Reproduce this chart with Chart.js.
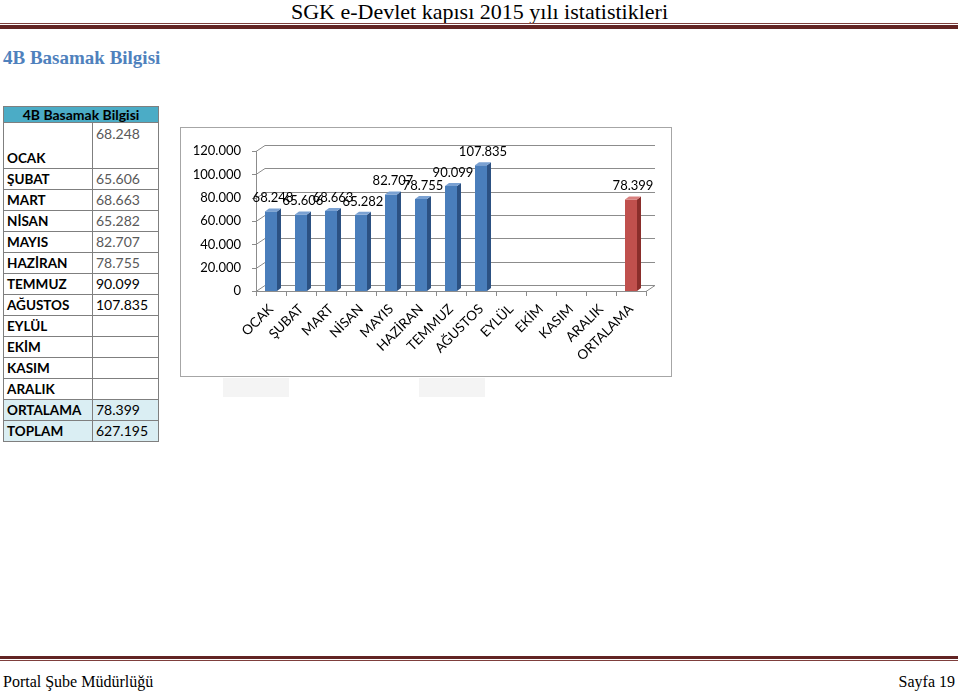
<!DOCTYPE html>
<html>
<head>
<meta charset="utf-8">
<script src="https://cdn.jsdelivr.net/npm/chart.js@4.4.1/dist/chart.umd.min.js"></script>
<style>
  body { margin: 0; width: 960px; height: 691px; background: #fff; position: relative; overflow: hidden; font-family: 'Liberation Serif', serif; }
  #head { position: absolute; right: 292px; top: 1px; font-size: 22px; line-height: 22px; color: #000; white-space: nowrap; }
  .thin { position: absolute; left: 0; width: 958px; height: 1px; background: #7f3f3d; }
  .thick { position: absolute; left: 0; width: 958px; height: 4px; background: #622423; }
  #title { position: absolute; left: 3px; top: 47px; font-size: 19px; font-weight: bold; color: #4f81bd; }
  #tbl { position: absolute; left: 3px; top: 106px; width: 155px; border-collapse: collapse; font-family: Lato, sans-serif; font-size: 14px; table-layout: fixed; }
  #tbl td { border: 1px solid #7f7f7f; padding: 0 0 0 3px; height: 20px; line-height: 16px; vertical-align: middle; white-space: nowrap; overflow: hidden; }
  #tbl td.lab { font-weight: bold; font-size: 13.5px; color: #000; }
  #tbl td.val { color: #000; }
  #tbl td.dim { color: #595959; }
  #tbl tr.hd td { background: #4bacc6; text-align: center; font-weight: bold; height: 15px; line-height: 15px; padding: 0; }
  #tbl tr.sum td { background: #daeef3; }
  #tbl tr.tall td { height: 42px; }
  #tbl tr.tall td.lab { vertical-align: bottom; padding-bottom: 2px; }
  #tbl tr.tall td.val { vertical-align: top; padding-top: 3px; }
  #box { position: absolute; left: 180px; top: 127px; width: 490px; height: 248px; border: 1px solid #a6a6a6; }
  .ghost { position: absolute; top: 378px; width: 66px; height: 19px; background: #f4f4f4; }
  #foot-l { position: absolute; left: 3px; top: 673px; font-size: 16px; }
  #foot-r { position: absolute; right: 5px; top: 673px; font-size: 16px; }
</style>
</head>
<body>
<div id="head">SGK e-Devlet kapısı 2015 yılı istatistikleri</div>
<div class="thin" style="top:23px"></div>
<div class="thick" style="top:25px"></div>
<div id="title">4B Basamak Bilgisi</div>
<table id="tbl"><colgroup><col style="width:89px"><col style="width:66px"></colgroup><tbody id="rows"></tbody></table>
<div id="box"><canvas id="chart" width="490" height="248"></canvas></div>
<div class="ghost" style="left:223px"></div>
<div class="ghost" style="left:419px"></div>
<div class="thick" style="top:656px;height:3px"></div>
<div class="thin" style="top:660px"></div>
<div id="foot-l">Portal Şube Müdürlüğü</div>
<div id="foot-r">Sayfa 19</div>
<script>
const months = ['OCAK', 'ŞUBAT', 'MART', 'NİSAN', 'MAYIS', 'HAZİRAN', 'TEMMUZ', 'AĞUSTOS', 'EYLÜL', 'EKİM', 'KASIM', 'ARALIK'];
const monthValues = [68248, 65606, 68663, 65282, 82707, 78755, 90099, 107835, null, null, null, null];
const averageLabel = 'ORTALAMA';
const averageValue = 78399;
const totalLabel = 'TOPLAM';
const totalValue = 627195;
const yMin = 0, yMax = 120000, yStep = 20000;

const categories = months.concat(averageLabel);
const values = monthValues.concat(averageValue);

const fmt = v => String(v).replace(/\B(?=(\d{3})+(?!\d))/g, '.');

// table on the left
let rows = '<tr class="hd"><td colspan="2">4B Basamak Bilgisi</td></tr>';
months.forEach((m, i) => {
    const v = monthValues[i];
    rows += '<tr' + (i === 0 ? ' class="tall"' : '') + '><td class="lab">' + m + '</td>' +
        '<td class="val' + (i < 6 ? ' dim' : '') + '">' + (v == null ? '' : fmt(v)) + '</td></tr>';
});
rows += '<tr class="sum"><td class="lab">' + averageLabel + '</td><td class="val">' + fmt(averageValue) + '</td></tr>';
rows += '<tr class="sum"><td class="lab">' + totalLabel + '</td><td class="val">' + fmt(totalValue) + '</td></tr>';
document.getElementById('rows').innerHTML = rows;

const blue = { front: '#4a7ebb', side: '#2c5182', top: '#7aa1d2' };
const red = { front: '#c0504d', side: '#8a2e2b', top: '#d9807e' };
const shade = categories.map(c => c === averageLabel ? red : blue);
const lineColor = '#8c8c8c';
const wall = { dx: 9, dy: 6 };
const depth = 4;

const perspective = {
    id: 'perspective',
    beforeDatasetsDraw(chart) {
        const { ctx, chartArea: a, scales: { y } } = chart;
        ctx.save();
        ctx.strokeStyle = lineColor;
        ctx.lineWidth = 1;
        y.ticks.forEach(t => {
            const py = Math.round(y.getPixelForValue(t.value)) + 0.5;
            ctx.beginPath();
            ctx.moveTo(a.left - 4, py);
            ctx.lineTo(a.left, py);
            ctx.lineTo(a.left + wall.dx, py - wall.dy);
            ctx.lineTo(a.right + wall.dx, py - wall.dy);
            ctx.stroke();
        });
        ctx.beginPath();
        ctx.moveTo(a.left + 0.5, a.top);
        ctx.lineTo(a.left + 0.5, a.bottom);
        ctx.moveTo(a.right, a.bottom + 0.5);
        ctx.lineTo(a.right + wall.dx, a.bottom + 0.5 - wall.dy);
        ctx.stroke();
        ctx.restore();
    },
    afterDatasetsDraw(chart) {
        const { ctx } = chart;
        const meta = chart.getDatasetMeta(0);
        ctx.save();
        meta.data.forEach((bar, i) => {
            const v = values[i];
            if (v == null) return;
            const { x, y, base, width } = bar.getProps(['x', 'y', 'base', 'width'], true);
            const l = x - width / 2, r = x + width / 2;
            const c = shade[i];
            ctx.fillStyle = c.side;
            ctx.beginPath();
            ctx.moveTo(r, y);
            ctx.lineTo(r + depth, y - depth * 0.75);
            ctx.lineTo(r + depth, base - depth * 0.75);
            ctx.lineTo(r, base);
            ctx.closePath();
            ctx.fill();
            ctx.fillStyle = c.top;
            ctx.beginPath();
            ctx.moveTo(l, y);
            ctx.lineTo(l + depth, y - depth * 0.75);
            ctx.lineTo(r + depth, y - depth * 0.75);
            ctx.lineTo(r, y);
            ctx.closePath();
            ctx.fill();
            ctx.fillStyle = '#000';
            ctx.font = '13px Lato';
            ctx.textAlign = 'center';
            ctx.textBaseline = 'bottom';
            ctx.fillText(fmt(v), x + 2, y - 7);
        });
        ctx.restore();
    }
};

new Chart(document.getElementById('chart'), {
    type: 'bar',
    data: {
        labels: categories,
        datasets: [{
            data: values,
            backgroundColor: shade.map(c => c.front),
            borderWidth: 0,
            categoryPercentage: 1,
            barPercentage: 0.4,
        }]
    },
    options: {
        responsive: false,
        animation: false,
        layout: { padding: { top: 23, right: 25, left: 0, bottom: 0 } },
        plugins: { legend: { display: false }, tooltip: { enabled: false } },
        scales: {
            x: {
                grid: { drawOnChartArea: false, tickLength: 5, color: lineColor, offset: true },
                border: { color: lineColor },
                ticks: { autoSkip: false, maxRotation: 45, minRotation: 45, padding: 5, color: '#000', font: { family: 'Lato', size: 13.5 } },
                afterFit(scale) { scale.height = 85; }
            },
            y: {
                min: yMin,
                max: yMax,
                grid: { display: false, drawTicks: false },
                border: { display: false },
                ticks: { stepSize: yStep, padding: 15, color: '#000', font: { family: 'Lato', size: 13 }, callback: v => fmt(v) },
                afterFit(scale) { scale.width = 75; }
            }
        }
    },
    plugins: [perspective]
});
</script>
</body>
</html>
